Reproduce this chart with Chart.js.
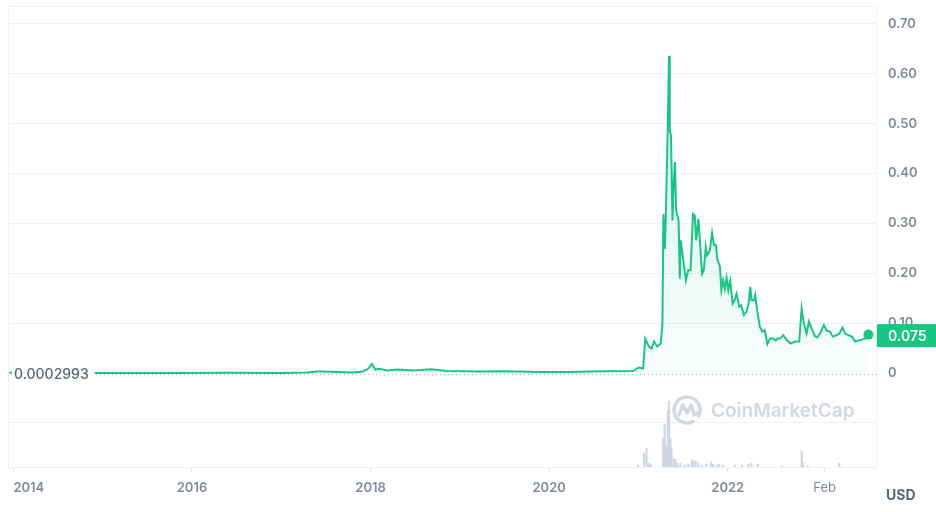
<!DOCTYPE html>
<html>
<head>
<meta charset="utf-8">
<script src="https://cdn.jsdelivr.net/npm/chart.js@4.4.0/dist/chart.umd.min.js"></script>
<style>
  html, body { margin: 0; padding: 0; background: #fff; }
  #wrap { width: 936px; height: 512px; position: relative; }
</style>
</head>
<body>
<div id="wrap"><canvas id="chart"></canvas></div>
<script>
// price history (USD)
const priceDates = [
  "2013-12-15", "2014-01-20", "2014-03-15", "2014-08-01", "2015-03-01", "2015-10-01",
  "2016-06-01", "2017-01-01", "2017-04-20", "2017-05-25", "2017-06-15", "2017-08-20",
  "2017-10-15", "2017-11-25", "2017-12-20", "2018-01-06", "2018-01-20", "2018-02-05",
  "2018-03-10", "2018-04-20", "2018-06-25", "2018-09-05", "2018-11-10", "2019-03-25",
  "2019-07-01", "2019-12-01", "2020-03-15", "2020-08-15", "2020-12-10", "2021-01-02",
  "2021-01-20", "2021-01-29", "2021-02-13", "2021-02-23", "2021-03-06", "2021-03-18",
  "2021-04-02", "2021-04-09", "2021-04-13", "2021-04-19", "2021-04-23", "2021-04-30",
  "2021-05-06", "2021-05-09", "2021-05-14", "2021-05-20", "2021-05-25", "2021-05-30",
  "2021-06-04", "2021-06-14", "2021-06-19", "2021-06-23", "2021-06-30", "2021-07-14",
  "2021-07-23", "2021-08-02", "2021-08-12", "2021-08-19", "2021-08-25", "2021-09-03",
  "2021-09-09", "2021-09-18", "2021-09-25", "2021-10-03", "2021-10-09", "2021-10-20",
  "2021-10-29", "2021-11-06", "2021-11-14", "2021-11-19", "2021-11-30", "2021-12-06",
  "2021-12-13", "2021-12-20", "2021-12-27", "2022-01-03", "2022-01-11", "2022-01-21",
  "2022-01-29", "2022-02-06", "2022-02-17", "2022-02-25", "2022-03-08", "2022-03-19",
  "2022-03-27", "2022-04-03", "2022-04-08", "2022-04-18", "2022-04-23", "2022-05-01",
  "2022-05-12", "2022-05-22", "2022-06-01", "2022-06-12", "2022-06-23", "2022-07-06",
  "2022-07-16", "2022-07-23", "2022-08-03", "2022-08-16", "2022-08-30", "2022-09-15",
  "2022-10-03", "2022-10-20", "2022-10-30", "2022-11-08", "2022-11-19", "2022-11-29",
  "2022-12-10", "2022-12-23", "2023-01-01", "2023-01-13", "2023-01-29", "2023-02-09",
  "2023-02-23", "2023-03-06", "2023-03-23", "2023-04-02", "2023-04-15", "2023-04-26",
  "2023-05-09", "2023-05-23", "2023-06-06", "2023-06-19", "2023-07-03", "2023-07-16",
  "2023-07-30"
];
const priceValues = [
  0.0003, 0.0014, 0.0005, 0.0002, 0.00018, 0.00013,
  0.0003, 0.0002, 0.0008, 0.0032, 0.0028, 0.0022,
  0.0011, 0.0025, 0.0075, 0.018, 0.0068, 0.0085,
  0.005, 0.007, 0.005, 0.0075, 0.004, 0.003,
  0.0035, 0.0022, 0.0018, 0.0033, 0.004, 0.011,
  0.009, 0.069, 0.053, 0.049, 0.063, 0.053,
  0.059, 0.099, 0.319, 0.249, 0.320, 0.473,
  0.636, 0.486, 0.476, 0.306, 0.379, 0.423,
  0.326, 0.306, 0.189, 0.266, 0.239, 0.186,
  0.206, 0.206, 0.319, 0.316, 0.266, 0.309,
  0.266, 0.199, 0.206, 0.253, 0.236, 0.246,
  0.281, 0.256, 0.256, 0.229, 0.213, 0.166,
  0.186, 0.169, 0.191, 0.166, 0.185, 0.139,
  0.146, 0.159, 0.133, 0.136, 0.116, 0.123,
  0.139, 0.173, 0.146, 0.146, 0.156, 0.126,
  0.093, 0.083, 0.086, 0.058, 0.069, 0.069,
  0.065, 0.069, 0.069, 0.076, 0.066, 0.059,
  0.063, 0.063, 0.129, 0.099, 0.079, 0.103,
  0.089, 0.074, 0.071, 0.079, 0.096, 0.085,
  0.083, 0.073, 0.076, 0.079, 0.091, 0.079,
  0.076, 0.073, 0.063, 0.065, 0.067, 0.069,
  0.077
];

// 24h volume (billions USD)
const volumeDates = [
  "2020-12-30", "2021-01-24", "2021-02-03", "2021-02-10", "2021-02-17", "2021-02-23",
  "2021-04-12", "2021-04-18", "2021-04-24", "2021-05-01", "2021-05-06", "2021-05-12",
  "2021-05-16", "2021-05-25", "2021-06-01", "2021-06-08", "2021-06-22", "2021-07-09",
  "2021-07-23", "2021-08-06", "2021-08-12", "2021-08-22", "2021-09-02", "2021-09-16",
  "2021-10-06", "2021-10-24", "2021-11-02", "2021-11-17", "2021-11-27", "2021-12-12",
  "2022-01-30", "2022-02-27", "2022-03-26", "2022-04-08", "2022-05-05", "2022-08-09",
  "2022-10-30", "2022-11-05", "2022-11-24", "2023-04-02"
];
const volumeValues = [
  1.6, 10.9, 14.8, 3.1, 2.3, 1.6,
  22.6, 33.5, 16.4, 43.7, 51.5, 22.6,
  14.8, 6.2, 6.2, 3.1, 3.1, 1.6,
  2.3, 5.5, 4.7, 4.7, 3.1, 1.6,
  2.3, 3.9, 2.3, 1.6, 2.3, 1.6,
  1.6, 1.6, 2.3, 3.1, 2.3, 0.8,
  12.5, 3.1, 0.8, 3.1
];

const xTickDates = ["2014-01-01", "2016-01-01", "2018-01-01", "2020-01-01", "2022-01-01", "2023-02-01"];
const xTickLabels = ["2014", "2016", "2018", "2020", "2022", "Feb"];
const yTicks = [-0.1, 0, 0.1, 0.2, 0.3, 0.4, 0.5, 0.6, 0.7];
const startPrice = 0.0002993;
const currentPrice = 0.075;
const xStart = "2013-12-10", xEnd = "2023-09-03";

const GREEN = "#16c784";
const FONT = "Inter, 'Noto Sans', sans-serif";

function toYear(s) {
  const d = Date.parse(s + "T00:00:00Z");
  const y = new Date(d).getUTCFullYear();
  const a = Date.UTC(y, 0, 1), b = Date.UTC(y + 1, 0, 1);
  return y + (d - a) / (b - a);
}

const pricePoints = priceDates.map((d, i) => ({ x: toYear(d), y: priceValues[i] }));
const volumePoints = volumeDates.map((d, i) => ({ x: toYear(d), y: volumeValues[i] }));
const lastIdx = pricePoints.length - 1;

const decor = {
  id: "decor",
  beforeDatasetsDraw(chart) {
    const { ctx, chartArea: a } = chart;
    ctx.save();
    // frame
    ctx.strokeStyle = "#eff2f5";
    ctx.lineWidth = 1;
    ctx.strokeRect(a.left + 0.5, a.top + 0.5, a.right - a.left - 1, a.bottom - a.top);
    // watermark
    const cx = a.right - 190, cy = a.bottom - 57;
    ctx.strokeStyle = "#d3d9e4";
    ctx.lineWidth = 3.5;
    ctx.lineCap = "round";
    ctx.lineJoin = "round";
    ctx.beginPath();
    ctx.arc(cx, cy, 13, 0.35 * Math.PI, 2.15 * Math.PI, false);
    ctx.stroke();
    ctx.beginPath();
    ctx.moveTo(cx - 8, cy + 5);
    ctx.lineTo(cx - 4, cy - 5);
    ctx.lineTo(cx, cy + 3);
    ctx.lineTo(cx + 4, cy - 5);
    ctx.lineTo(cx + 7, cy + 5);
    ctx.lineTo(cx + 10, cy + 3);
    ctx.stroke();
    ctx.fillStyle = "#d3d9e4";
    ctx.font = "600 19px " + FONT;
    ctx.textBaseline = "middle";
    ctx.fillText("CoinMarketCap", cx + 24, cy + 1);
    ctx.restore();
  },
  afterDatasetsDraw(chart) {
    const { ctx, chartArea: a, scales } = chart;
    const y0 = Math.round(scales.y.getPixelForValue(startPrice)) + 0.5;
    ctx.save();
    // dotted baseline at the first price
    ctx.setLineDash([1, 3]);
    ctx.lineWidth = 1;
    ctx.strokeStyle = "#a6b0c3";
    ctx.beginPath();
    ctx.moveTo(a.left + 84, y0 + 1);
    ctx.lineTo(a.right, y0 + 1);
    ctx.stroke();
    ctx.setLineDash([]);
    // start price label
    ctx.font = "500 14px " + FONT;
    const label = startPrice.toString();
    const w = ctx.measureText(label).width;
    ctx.fillStyle = "rgba(255,255,255,0.92)";
    ctx.fillRect(a.left + 4, y0 - 9, w + 8, 18);
    ctx.fillStyle = "#58667e";
    ctx.textBaseline = "middle";
    ctx.fillText(label, a.left + 6, y0 + 1);
    // current price tag
    const yc = scales.y.getPixelForValue(currentPrice);
    ctx.fillStyle = GREEN;
    ctx.fillRect(a.right, yc - 11.5, chart.width - a.right, 23);
    ctx.fillStyle = "#fff";
    ctx.font = "600 14px " + FONT;
    ctx.fillText(currentPrice.toFixed(3), a.right + 11, yc + 1);
    // currency
    ctx.fillStyle = "#58667e";
    ctx.font = "700 14px " + FONT;
    ctx.fillText("USD", a.right + 9, chart.height - 16);
    ctx.restore();
  }
};

new Chart(document.getElementById("chart"), {
  type: "line",
  data: {
    datasets: [
      {
        type: "line",
        data: pricePoints,
        yAxisID: "y",
        order: 1,
        borderColor: GREEN,
        borderWidth: 2,
        tension: 0,
        pointRadius: (c) => (c.dataIndex === lastIdx ? 5 : 0),
        pointBackgroundColor: GREEN,
        pointBorderWidth: 0,
        fill: { value: startPrice },
        backgroundColor: (c) => {
          const { ctx, chartArea, scales } = c.chart;
          if (!chartArea) return "rgba(22,199,132,0.08)";
          const g = ctx.createLinearGradient(0, scales.y.getPixelForValue(0.64), 0, scales.y.getPixelForValue(0));
          g.addColorStop(0, "rgba(22,199,132,0.18)");
          g.addColorStop(1, "rgba(22,199,132,0.03)");
          return g;
        }
      },
      {
        type: "bar",
        data: volumePoints,
        yAxisID: "vol",
        order: 2,
        backgroundColor: "#cfd6e4",
        barThickness: 1.5
      }
    ]
  },
  options: {
    responsive: true,
    maintainAspectRatio: false,
    animation: false,
    layout: { padding: { left: 8, top: 6, right: 0, bottom: 0 } },
    plugins: { legend: { display: false }, tooltip: { enabled: false } },
    scales: {
      x: {
        type: "linear",
        offset: false,
        min: toYear(xStart),
        max: toYear(xEnd),
        afterBuildTicks: (s) => {
          s.ticks = xTickDates.map((d) => ({ value: toYear(d) }));
          s.ticks.push({ value: toYear(xEnd) });
        },
        afterFit: (s) => { s.height = 45; s.paddingLeft = 0; s.paddingRight = 0; },
        grid: {
          offset: false,
          drawOnChartArea: false,
          drawTicks: true,
          tickLength: 5,
          color: (c) => (c.index < xTickLabels.length ? "#e3e7ee" : "rgba(0,0,0,0)")
        },
        border: { display: false },
        ticks: {
          autoSkip: false,
          maxRotation: 0,
          align: "inner",
          padding: 8,
          color: "#808a9d",
          font: (c) => ({ family: FONT, size: 13, weight: c.index === xTickLabels.length - 1 ? 400 : 600 }),
          callback: (v, i) => (i < xTickLabels.length ? xTickLabels[i] : "")
        }
      },
      y: {
        position: "right",
        min: -0.1885,
        max: 0.736,
        afterBuildTicks: (s) => { s.ticks = yTicks.map((v) => ({ value: v })); },
        afterFit: (s) => { s.width = 59; s.paddingTop = 0; s.paddingBottom = 0; },
        grid: {
          drawTicks: false,
          color: (c) => (c.tick && c.tick.value === 0 ? "rgba(0,0,0,0)" : "#eff2f5")
        },
        border: { display: false },
        ticks: {
          padding: 11,
          color: "#808a9d",
          font: { family: FONT, size: 13, weight: 600 },
          callback: (v) => (v < 0 ? "" : v === 0 ? "0" : v.toFixed(2))
        }
      },
      vol: {
        display: false,
        min: 0,
        max: 360
      }
    }
  },
  plugins: [decor]
});
</script>
</body>
</html>
